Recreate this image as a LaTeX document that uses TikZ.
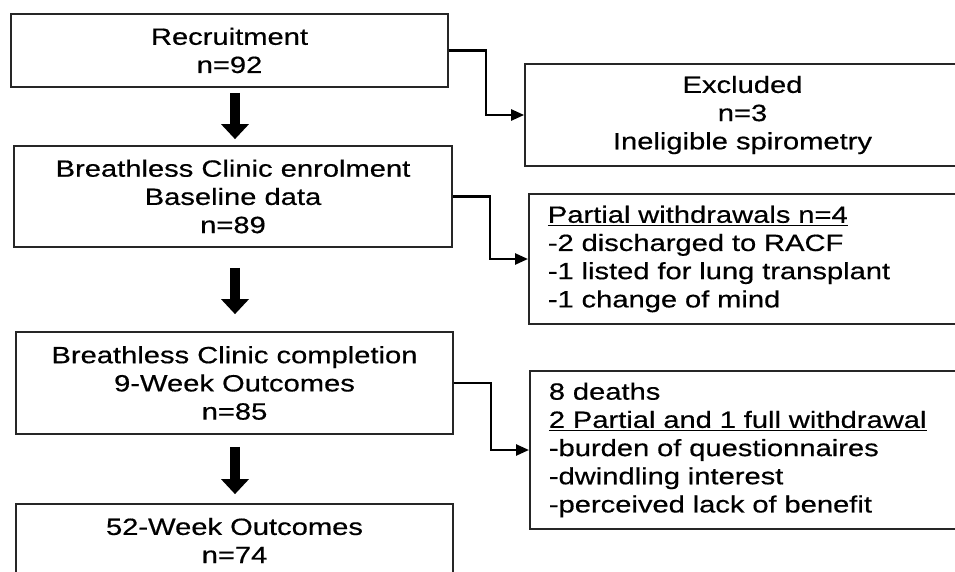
\documentclass[tikz,border=0pt]{standalone}
\usepackage{fontspec}
\setmainfont{Liberation Sans}[FakeStretch=1.24,FakeBold=0.5]
\usetikzlibrary{arrows.meta,calc}
\newcommand\ulx[1]{\leavevmode\setbox0\hbox{#1}\rlap{\rule[-3.5pt]{\wd0}{1.7pt}}\box0}
\begin{document}
\begin{tikzpicture}[x=1pt,y=-1pt,
  box/.style={draw=black!85, line width=1.7pt, rectangle, font=\fontsize{23.5}{28.2}\selectfont, inner sep=0pt},
  cbox/.style={box, align=center},
  lbox/.style={box, align=left, inner xsep=19pt, text width=394pt, minimum width=432pt},
  conn/.style={line width=2.5pt, -{Triangle[length=13pt,width=11pt]}},
  bigarrow/.style={line width=9.5pt, -{Triangle[length=15pt,width=27pt]}}]
\useasboundingbox (0,0) rectangle (955,572);
\clip (0,0) rectangle (955,572);
\fill[white] (0,0) rectangle (955,572);

\node[cbox, minimum width=437pt, minimum height=73pt] (b1) at (229.5,50.5) {Recruitment\\n=92};
\node[cbox, minimum width=438pt, minimum height=101pt] (b2) at (233,196.5) {Breathless Clinic enrolment\\Baseline data\\n=89};
\node[cbox, minimum width=437pt, minimum height=102pt] (b3) at (234.5,383) {Breathless Clinic completion\\9-Week Outcomes\\n=85};
\node[cbox, minimum width=437pt, minimum height=73pt] (b4) at (234.5,540.5) {52-Week Outcomes\\n=74};
\node[cbox, minimum width=435pt, minimum height=102pt] (ex) at (742.5,115) {Excluded\\n=3\\Ineligible spirometry};
\node[lbox, minimum height=130pt, anchor=west] (pw) at (528,259) {\ulx{Partial withdrawals n=4}\\-2 discharged to RACF\\-1 listed for lung transplant\\-1 change of mind};
\node[lbox, minimum height=158pt, anchor=west] (dw) at (529,450) {8 deaths\\\ulx{2 Partial and 1 full withdrawal}\\-burden of questionnaires\\-dwindling interest\\-perceived lack of benefit};

\draw[conn] (b1.east) -- ++(37,0) |- (ex.west);
\draw[conn] (b2.east) -- ++(37,0) |- (pw.west);
\draw[conn] (b3.east) -- ++(37,0) |- (dw.west);

\draw[bigarrow] ($(b1.south)+(5.5,5)$) -- ($(b2.north)+(2,-6)$);
\draw[bigarrow] ($(b2.south)+(2,20)$) -- ($(b3.north)+(0.5,-17)$);
\draw[bigarrow] ($(b3.south)+(0.5,12)$) -- ($(b4.north)+(0.5,-9)$);
\end{tikzpicture}
\end{document}
